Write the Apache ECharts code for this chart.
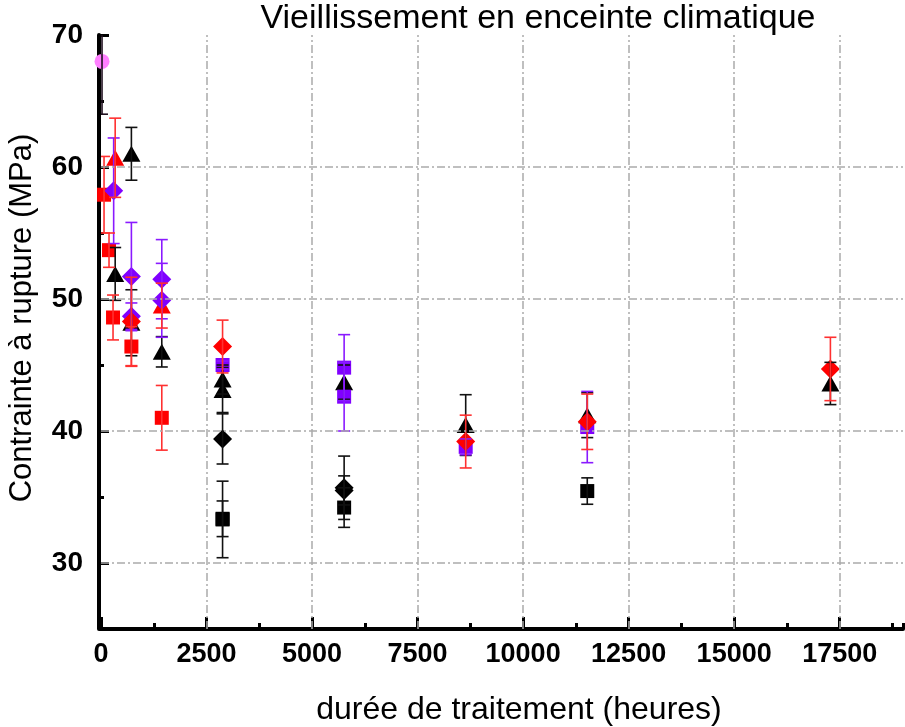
<!DOCTYPE html>
<html><head><meta charset="utf-8">
<script src="https://cdn.jsdelivr.net/npm/echarts@6/dist/echarts.min.js"></script>
<style>html,body{margin:0;padding:0;background:#fff}#c{width:905px;height:727px}</style>
</head><body><div id="c"></div>
<script>
// ---- data (hours, strength MPa, half error bar) ----
const pinkHours = [24];
const pinkVals  = [68.0];
const pinkErr   = [4.0];

const redSqHours = [72, 190, 285, 720, 1440];
const redSqVals  = [57.9, 53.7, 48.6, 46.4, 41.0];
const redSqErr   = [2.9, 1.3, 1.7, 1.5, 2.45];

const redTriHours = [336, 1440];
const redTriVals  = [60.7, 49.5];
const redTriErr   = [3.0, 1.7];

const redDiaHours = [720, 2880, 8640, 11520, 17280];
const redDiaVals  = [48.3, 46.4, 39.2, 40.7, 44.7];
const redDiaErr   = [3.35, 2.0, 2.0, 2.1, 2.4];

const purDiaHours = [300, 720, 720, 1440, 1440];
const purDiaVals  = [58.2, 51.7, 48.7, 51.5, 49.9];
const purDiaErr   = [4.0, 4.1, 1.0, 3.0, 2.8];

const purSqHours = [2880, 5760, 5760, 8640, 11520];
const purSqVals  = [45.0, 44.8, 42.6, 38.8, 40.3];
const purSqErr   = [0.3, 2.5, 2.6, 0.6, 2.7];

const blkTriHours = [336, 720, 720, 1440, 2880, 2880, 5760, 8640, 11520, 17280];
const blkTriVals  = [51.9, 61.0, 48.2, 46.0, 43.9, 43.1, 43.7, 40.45, 41.2, 43.6];
const blkTriErr   = [2.0, 2.0, 2.5, 1.15, 1.1, 1.7, 1.3, 2.3, 1.7, 1.6];

const blkDiaHours = [2880, 5760, 5760];
const blkDiaVals  = [39.4, 35.7, 35.5];
const blkDiaErr   = [1.9, 2.4, 1.1];

const blkSqHours = [2880, 2880, 5760, 11520];
const blkSqVals  = [33.3, 33.35, 34.2, 35.45];
const blkSqErr   = [2.9, 1.35, 1.5, 1.0];

const xGridValues = [2500, 5000, 7500, 10000, 12500, 15000, 17500];
const yGridValues = [30, 40, 50, 60];

const titleText = 'Vieillissement en enceinte climatique';
const xName = 'durée de traitement (heures)';
const yName = 'Contrainte à rupture (MPa)';

// ---- helpers ----
function pts(h, v) { return h.map((x, i) => [x, v[i]]); }
function errPts(h, v, e) { return h.map((x, i) => [x, v[i], e[i]]); }

function errRender(color) {
  return function (params, api) {
    const x = api.value(0), y = api.value(1), e = api.value(2);
    const top = api.coord([x, y + e]);
    const bot = api.coord([x, y - e]);
    const hw = 6;
    const style = { stroke: color, lineWidth: 1.6, fill: null };
    return {
      type: 'group',
      children: [
        { type: 'line', shape: { x1: top[0], y1: top[1], x2: bot[0], y2: bot[1] }, style: style },
        { type: 'line', shape: { x1: top[0] - hw, y1: top[1], x2: top[0] + hw, y2: top[1] }, style: style },
        { type: 'line', shape: { x1: bot[0] - hw, y1: bot[1], x2: bot[0] + hw, y2: bot[1] }, style: style }
      ]
    };
  };
}

function scatter(name, h, v, symbol, size, color) {
  return {
    name: name, type: 'scatter', xAxisIndex: 0, yAxisIndex: 0,
    data: pts(h, v), symbol: symbol, symbolSize: size,
    itemStyle: { color: color, opacity: 1 }, z: 3, clip: true
  };
}
function errSeries(name, h, v, e, color) {
  return {
    name: name + ' err', type: 'custom', xAxisIndex: 0, yAxisIndex: 0,
    data: errPts(h, v, e), encode: { x: 0, y: 1 },
    renderItem: errRender(color), z: 4, clip: true, silent: true
  };
}

const RED = '#ff0000', RED_E = '#ff3030';
const PUR = '#8000ff', PUR_E = '#8a1aff';
const BLK = '#000000', BLK_E = '#111111';
const PINK = '#ff80ff';

const gridLine = { color: '#ababab', width: 1.5, type: [8, 3, 2, 3] };

const series = [
  Object.assign(scatter('blkSq', blkSqHours, blkSqVals, 'rect', 14, BLK), {
    markLine: {
      silent: true, symbol: 'none', label: { show: false }, animation: false,
      lineStyle: gridLine,
      data: yGridValues.map(v => ({ yAxis: v })).concat(xGridValues.map(v => ({ xAxis: v })))
    },
    z: 2
  }),
  scatter('blkDia', blkDiaHours, blkDiaVals, 'diamond', [19, 19], BLK),
  scatter('blkTri', blkTriHours, blkTriVals, 'triangle', [18, 16], BLK),
  scatter('redTri', redTriHours, redTriVals, 'triangle', [18, 16], RED),
  scatter('redSq', redSqHours, redSqVals, 'rect', 14, RED),
  scatter('purSq', purSqHours, purSqVals, 'rect', 14, PUR),
  scatter('purDia', purDiaHours, purDiaVals, 'diamond', [19, 19], PUR),
  scatter('redDia', redDiaHours, redDiaVals, 'diamond', [19, 19], RED),
  scatter('pink', pinkHours, pinkVals, 'circle', 15, PINK),
  errSeries('blkSq', blkSqHours, blkSqVals, blkSqErr, BLK_E),
  errSeries('blkDia', blkDiaHours, blkDiaVals, blkDiaErr, BLK_E),
  errSeries('blkTri', blkTriHours, blkTriVals, blkTriErr, BLK_E),
  errSeries('pink', pinkHours, pinkVals, pinkErr, '#201020'),
  errSeries('purSq', purSqHours, purSqVals, purSqErr, PUR_E),
  errSeries('purDia', purDiaHours, purDiaVals, purDiaErr, PUR_E),
  errSeries('redTri', redTriHours, redTriVals, redTriErr, RED_E),
  errSeries('redSq', redSqHours, redSqVals, redSqErr, RED_E),
  errSeries('redDia', redDiaHours, redDiaVals, redDiaErr, RED_E)
];

const chart = echarts.init(document.getElementById('c'), null, { renderer: 'canvas' });
chart.setOption({
  animation: false,
  backgroundColor: '#ffffff',
  grid: [
    { left: 101, top: 35, width: 802, height: 594, containLabel: false },
    { left: 101, top: 35, width: 802, height: 528, containLabel: false }
  ],
  xAxis: [
    { gridIndex: 0, type: 'value', min: 0, max: 19000, interval: 1250, position: 'bottom',
      axisLine: { show: true, onZero: false, lineStyle: { color: '#000', width: 4 } },
      axisTick: { show: true, inside: true, length: 6, lineStyle: { color: '#000', width: 3 } },
      axisLabel: { show: false }, splitLine: { show: false } },
    { gridIndex: 0, type: 'value', min: 0, max: 19000, interval: 2500, position: 'bottom',
      axisLine: { show: false, onZero: false },
      axisTick: { show: true, inside: true, length: 12, lineStyle: { color: '#000', width: 3 } },
      axisLabel: { show: true, margin: 12, showMaxLabel: false,
        formatter: v => (v % 2500 === 0 ? String(v) : ''),
        color: '#000', fontWeight: 'bold', fontSize: 27,
        fontFamily: "'Liberation Sans Narrow', 'Arial Narrow', 'Liberation Sans', Arial, sans-serif" },
      splitLine: { show: false } },
    { gridIndex: 1, type: 'value', min: 0, max: 19000, show: false }
  ],
  yAxis: [
    { gridIndex: 0, type: 'value', min: 25, max: 70, interval: 5, offset: 2,
      axisLine: { show: true, onZero: false, lineStyle: { color: '#000', width: 4 } },
      axisTick: { show: true, inside: true, length: 5, lineStyle: { color: '#000', width: 3 } },
      axisLabel: { show: false }, splitLine: { show: false } },
    { gridIndex: 1, type: 'value', min: 30, max: 70, interval: 10, offset: 2,
      axisLine: { show: false, onZero: false },
      axisTick: { show: true, inside: true, length: 10, lineStyle: { color: '#000', width: 3 } },
      axisLabel: { show: true, margin: 16, color: '#000', fontWeight: 'bold', fontSize: 28,
        fontFamily: "'Liberation Sans', Arial, sans-serif" },
      splitLine: { show: false } }
  ],
  graphic: [
    { type: 'text', x: 538, y: 19, silent: true,
      style: { text: titleText, fill: '#000', font: "34px 'Liberation Sans', Arial, sans-serif",
        textAlign: 'center', textVerticalAlign: 'middle' } },
    { type: 'text', x: 519, y: 710, silent: true,
      style: { text: xName, fill: '#000', font: "32px 'Liberation Sans', Arial, sans-serif",
        textAlign: 'center', textVerticalAlign: 'middle' } },
    { type: 'text', x: 22, y: 318, rotation: Math.PI / 2, silent: true,
      style: { text: yName, fill: '#000', font: "31px 'Liberation Sans', Arial, sans-serif",
        textAlign: 'center', textVerticalAlign: 'middle' } }
  ],
  series: series
});
</script>
</body></html>
